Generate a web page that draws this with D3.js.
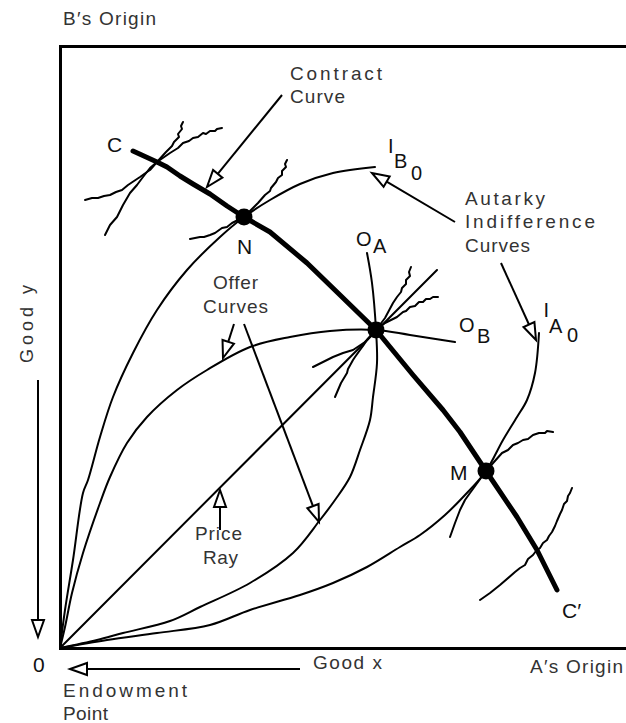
<!DOCTYPE html>
<html>
<head>
<meta charset="utf-8">
<script src="https://cdn.jsdelivr.net/npm/d3@7"></script>
<style>
  body { margin: 0; background: #fff; }
  svg { display: block; }
  text { font-family: "Liberation Sans", Arial, sans-serif; }
</style>
</head>
<body>
<svg id="edgeworth" width="626" height="723"></svg>
<script>
// quantities measured from the endowment point: [good x, good y]
var pointN = [184, 431]
var pointE = [316, 318]
var pointM = [426, 177]

var contractCurve = [[73, 497], [97, 486], [107, 481], [120, 472], [133, 464], [150, 454], [167, 442],
    [184, 431], [210, 416], [247, 385], [280, 353], [316, 318], [353, 273], [383, 238], [400, 216],
    [426, 177], [457, 131], [477, 98], [497, 58]]

var indiffB0 = [[0, 0], [5, 38], [13, 88], [23, 155], [28, 168], [40, 211], [53, 251], [73, 295],
    [97, 338], [127, 378], [160, 411], [184, 431], [210, 448], [240, 464], [273, 475], [315, 481]]

var indiffA0 = [[0, 0], [47, 8], [97, 15], [150, 23], [190, 38], [240, 53], [273, 65], [307, 81],
    [340, 101], [360, 113], [385, 133], [405, 153], [426, 177], [443, 208], [457, 231], [467, 248],
    [475, 275], [479, 315]]

var offerB = [[0, 0], [5, 21], [12, 55], [23, 95], [40, 145], [50, 171], [67, 205], [87, 231],
    [117, 258], [147, 278], [190, 301], [230, 311], [270, 317], [316, 318], [350, 313], [395, 306]]

var offerA = [[0, 0], [37, 8], [63, 15], [110, 27], [140, 41], [190, 65], [233, 95], [260, 128],
    [275, 148], [290, 171], [300, 198], [310, 228], [313, 251], [317, 285], [316, 318], [312, 365], [307, 395]]

var priceRay = [[0, 0], [377, 378]]

// short hand-drawn indifference curves at the tangency points
var wiggles = [
    [[123, 526], [121, 522], [122, 519], [118, 514], [119, 511], [114, 506], [112, 502], [106, 496], [97, 486],
     [90, 478], [87, 476], [80, 471], [74, 467], [68, 463], [62, 458], [56, 456], [50, 453], [44, 452],
     [38, 450], [32, 450], [25, 448]],
    [[162, 520], [157, 519], [155, 517], [150, 517], [146, 514], [143, 515], [138, 511], [133, 510], [129, 507],
     [123, 505], [118, 500], [110, 495], [97, 486], [90, 480], [83, 471], [77, 463], [70, 455], [63, 443],
     [57, 431], [50, 423], [45, 413]],
    [[227, 488], [225, 484], [226, 481], [222, 477], [222, 473], [218, 470], [216, 466], [211, 460], [210, 457],
     [205, 453], [198, 445], [184, 431], [172, 425], [167, 421], [162, 420], [155, 415], [150, 413],
     [144, 411], [140, 411], [130, 409]],
    [[351, 381], [349, 376], [350, 372], [346, 368], [346, 364], [342, 360], [341, 356], [337, 351], [333, 345],
     [325, 330], [316, 318], [307, 308], [303, 302], [300, 298], [295, 291], [293, 288], [288, 279],
     [287, 275], [281, 265], [275, 251]],
    [[378, 351], [373, 351], [370, 349], [366, 349], [363, 346], [359, 346], [355, 342], [350, 341], [346, 337],
     [343, 336], [337, 331], [325, 325], [316, 318], [305, 306], [293, 298], [283, 295], [273, 291],
     [263, 286], [253, 281]],
    [[493, 216], [487, 217], [485, 215], [479, 215], [473, 213], [468, 209], [463, 208], [458, 205], [453, 203],
     [448, 198], [442, 195], [426, 177], [410, 155], [405, 148], [400, 138], [395, 125], [390, 111]],
    [[512, 160], [510, 155], [508, 152], [507, 147], [504, 144], [502, 138], [500, 134], [497, 127], [495, 122],
     [492, 116], [489, 112], [487, 108], [483, 105], [480, 100], [476, 97], [473, 93], [468, 89], [465, 83],
     [460, 80], [455, 76], [440, 63], [430, 55], [420, 48]]
]

// [tail, tip]
var arrows = [
    [[222, 553], [147, 461]],   // contract curve
    [[395, 426], [312, 475]],   // autarky -> I_B0
    [[441, 385], [476, 308]],   // autarky -> I_A0
    [[174, 324], [163, 290]],   // offer -> O_B
    [[184, 324], [259, 126]],   // offer -> O_A
    [[160, 118], [160, 158]],   // price ray
    [[-22, 268], [-22, 11]],    // good y
    [[240, -21], [10, -21]]     // good x
]

var wordLabels = [
    ["B′s Origin", 3, 623, 93],
    ["Contract", 230, 568, 92],
    ["Curve", 230, 545, 55],
    ["Autarky", 405, 443, 80],
    ["Indifference", 405, 420, 130],
    ["Curves", 405, 396, 65],
    ["Offer", 153, 359, 45],
    ["Curves", 143, 335, 65],
    ["Price", 135, 108, 47],
    ["Ray", 143, 84, 35],
    ["Good x", 253, -21, 69],
    ["A′s Origin", 470, -25, 93],
    ["Endowment", 3, -49, 124],
    ["Point", 3, -72, 45]
]

var letterLabels = [
    ["C", 47, 496], ["N", 177, 394], ["M", 390, 168], ["C′", 502, 30], ["0", -27, -24]
]

// stacked sub/subscript labels: each part [text, x, y]
var symbolLabels = [
    [["I", 328, 495], ["B", 334, 480], ["0", 351, 468]],
    [["I", 483.5, 331], ["A", 489, 315], ["0", 507, 306]],
    [["O", 296, 402], ["A", 313, 395]],
    [["O", 399, 316], ["B", 417, 305]]
]

var svg = d3.select("#edgeworth")
var x = d3.scaleLinear().domain([0, 566]).range([60, 626])
var y = d3.scaleLinear().domain([0, 602]).range([648, 46])

// box: bottom, top and left edges
function frame(axis, tr) {
    var g = svg.append("g").attr("transform", tr)
        .call(axis.tickValues([]).tickSizeOuter(0))
    g.select(".domain").attr("stroke", "#000").attr("stroke-width", 3).attr("stroke-linecap", "square")
}
frame(d3.axisBottom(x), `translate(0,${y(0)})`)
frame(d3.axisTop(x), `translate(0,${y(602)})`)
frame(d3.axisLeft(y), `translate(${x(0)},0)`)

var smooth = d3.line().x(d => x(d[0])).y(d => y(d[1])).curve(d3.curveCatmullRom.alpha(0.5))
var rough = d3.line().x(d => x(d[0])).y(d => y(d[1]))

var curves = svg.append("g").attr("fill", "none").attr("stroke", "#000")
    .attr("stroke-linejoin", "round").attr("stroke-linecap", "round")

;[indiffB0, indiffA0, offerB, offerA].forEach(function (c) {
    curves.append("path").attr("d", smooth(c)).attr("stroke-width", 2)
})
curves.append("path").attr("d", rough(priceRay)).attr("stroke-width", 2)

curves.selectAll(".wiggle")
    .data(wiggles)
    .join("path")
    .attr("class", "wiggle")
    .attr("d", rough)
    .attr("stroke-width", 2)

curves.append("path").attr("d", rough(contractCurve)).attr("stroke-width", 5)

svg.selectAll(".dot")
    .data([pointN, pointE, pointM])
    .join("circle")
    .attr("class", "dot")
    .attr("cx", d => x(d[0]))
    .attr("cy", d => y(d[1]))
    .attr("r", 8.5)
    .attr("fill", "#000")

// hollow-headed arrows
var arrowG = svg.append("g").attr("stroke", "#000").attr("stroke-width", 2)
arrows.forEach(function (a) {
    var x1 = x(a[0][0]), y1 = y(a[0][1]), x2 = x(a[1][0]), y2 = y(a[1][1])
    var ang = Math.atan2(y2 - y1, x2 - x1)
    var len = 17, half = 6
    var bx = x2 - len * Math.cos(ang), by = y2 - len * Math.sin(ang)
    arrowG.append("line").attr("x1", x1).attr("y1", y1).attr("x2", bx).attr("y2", by)
    var tri = [[x2, y2],
        [bx + half * Math.sin(ang), by - half * Math.cos(ang)],
        [bx - half * Math.sin(ang), by + half * Math.cos(ang)]]
    arrowG.append("path").attr("d", "M" + tri.join("L") + "Z").attr("fill", "#fff")
        .attr("stroke-linejoin", "miter")
})

svg.selectAll(".word")
    .data(wordLabels)
    .join("text")
    .attr("class", "word")
    .attr("x", d => x(d[1]))
    .attr("y", d => y(d[2]))
    .attr("textLength", d => d[3])
    .attr("lengthAdjust", "spacing")
    .attr("font-size", 19)
    .attr("fill", "#333")
    .text(d => d[0])

svg.selectAll(".letter")
    .data(letterLabels)
    .join("text")
    .attr("class", "letter")
    .attr("x", d => x(d[1]))
    .attr("y", d => y(d[2]))
    .attr("font-size", 21)
    .attr("fill", "#111")
    .text(d => d[0])

svg.selectAll(".symbol")
    .data(symbolLabels)
    .join("text")
    .attr("class", "symbol")
    .attr("font-size", 20)
    .attr("fill", "#111")
    .selectAll("tspan")
    .data(d => d)
    .join("tspan")
    .attr("x", d => x(d[1]))
    .attr("y", d => y(d[2]))
    .text(d => d[0])

svg.append("text")
    .attr("transform", `translate(${x(-27)},${y(324)}) rotate(-90)`)
    .attr("text-anchor", "middle")
    .attr("textLength", 78)
    .attr("lengthAdjust", "spacing")
    .attr("font-size", 18)
    .attr("fill", "#333")
    .text("Good y")
</script>
</body>
</html>
